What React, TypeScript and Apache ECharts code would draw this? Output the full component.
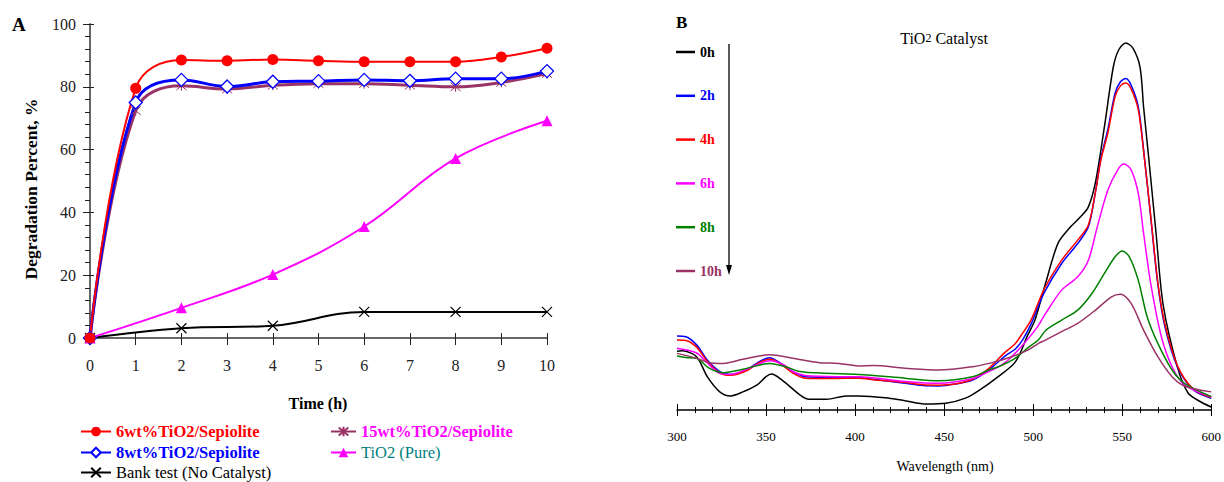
import React, { useEffect, useRef } from 'react';
import * as echarts from 'echarts';

const FONT = "'Liberation Serif', 'Times New Roman', Times, serif";

// ---------- Panel A data ----------
const hours = [0, 1, 2, 3, 4, 5, 6, 7, 8, 9, 10];
const evenHours = [0, 2, 4, 6, 8, 10];
const xTickLabelsA = ['0', '1', '2', '3', '4', '5', '6', '7', '8', '9', '10'];
const wt6Values = [0, 79.5, 88.5, 88.3, 88.7, 88.3, 88.0, 88.0, 88.0, 89.5, 92.3];
const wt8Values = [0, 75.0, 82.2, 80.1, 81.6, 81.8, 82.2, 81.9, 82.6, 82.6, 85.0];
const wt15Values = [0, 72.4, 80.3, 79.3, 80.5, 81.0, 81.0, 80.5, 80.0, 81.4, 84.2];
const tio2PureValues = [0, 9.6, 20.2, 35.5, 57.2, 69.2];
const blankValues = [0, 3.1, 3.9, 8.3, 8.3, 8.3];

const seriesNamesA = [
  '6wt%TiO2/Sepiolite',
  '8wt%TiO2/Sepiolite',
  'Bank test (No Catalyst)',
  '15wt%TiO2/Sepiolite',
  'TiO2 (Pure)',
];

// ---------- Panel B data (wavelength nm, absorbance a.u.) ----------
const spectrum0h = [
  [300, 0.159], [303, 0.160], [311, 0.144], [317, 0.090], [324, 0.049], [330, 0.038], [337, 0.049],
  [345, 0.068], [350, 0.090], [353, 0.097], [359, 0.081], [369, 0.041], [374, 0.029], [384, 0.029],
  [395, 0.038], [402, 0.038], [419, 0.032], [428, 0.025], [440, 0.016], [451, 0.018], [462, 0.032],
  [469, 0.051], [480, 0.089], [490, 0.130], [497, 0.203], [501, 0.243], [507, 0.343], [514, 0.451],
  [521, 0.495], [527, 0.524], [531, 0.549], [535, 0.616], [540, 0.765], [545, 0.927], [548, 0.973],
  [552, 0.992], [556, 0.978], [560, 0.927], [562, 0.819], [565, 0.676], [569, 0.478], [573, 0.284],
  [581, 0.116], [587, 0.046], [593, 0.025], [600, 0.008],
];
const spectrum2h = [
  [300, 0.200], [305, 0.198], [311, 0.176], [317, 0.135], [324, 0.104], [330, 0.096], [339, 0.108],
  [346, 0.130], [352, 0.141], [357, 0.130], [365, 0.104], [372, 0.090], [387, 0.088], [402, 0.088],
  [410, 0.083], [428, 0.072], [438, 0.066], [447, 0.065], [456, 0.070], [466, 0.081], [475, 0.108],
  [484, 0.145], [490, 0.165], [494, 0.189], [499, 0.234], [506, 0.315], [516, 0.396], [525, 0.450],
  [531, 0.495], [535, 0.590], [538, 0.680], [542, 0.760], [546, 0.856], [549, 0.887], [552, 0.896],
  [555, 0.878], [559, 0.820], [562, 0.703], [566, 0.522], [570, 0.340], [574, 0.225], [581, 0.117],
  [590, 0.054], [600, 0.032],
];
const spectrum4h = [
  [300, 0.189], [305, 0.188], [311, 0.170], [317, 0.132], [324, 0.100], [330, 0.094], [339, 0.106],
  [346, 0.128], [352, 0.137], [357, 0.128], [365, 0.100], [372, 0.086], [387, 0.085], [402, 0.086],
  [410, 0.082], [428, 0.074], [438, 0.068], [447, 0.067], [456, 0.070], [466, 0.083], [475, 0.112],
  [484, 0.155], [490, 0.180], [494, 0.207], [499, 0.245], [506, 0.325], [516, 0.405], [525, 0.459],
  [531, 0.500], [535, 0.590], [538, 0.675], [542, 0.750], [546, 0.847], [549, 0.876], [552, 0.884],
  [555, 0.868], [559, 0.812], [562, 0.700], [566, 0.525], [570, 0.345], [574, 0.232], [581, 0.120],
  [590, 0.056], [600, 0.034],
];
const spectrum6h = [
  [300, 0.167], [311, 0.154], [317, 0.127], [324, 0.099], [330, 0.096], [340, 0.112], [352, 0.133],
  [360, 0.122], [365, 0.104], [372, 0.093], [390, 0.090], [402, 0.090], [428, 0.077], [447, 0.072],
  [466, 0.085], [475, 0.104], [480, 0.115], [486, 0.135], [494, 0.175], [502, 0.222], [507, 0.261],
  [516, 0.324], [525, 0.360], [531, 0.405], [536, 0.495], [542, 0.595], [548, 0.653], [551, 0.665],
  [555, 0.649], [559, 0.586], [562, 0.478], [566, 0.342], [572, 0.198], [578, 0.117], [585, 0.068],
  [600, 0.036],
];
const spectrum8h = [
  [300, 0.146], [305, 0.142], [311, 0.140], [318, 0.113], [326, 0.101], [337, 0.110], [352, 0.126],
  [361, 0.117], [369, 0.104], [384, 0.099], [402, 0.096], [428, 0.086], [447, 0.079], [466, 0.090],
  [475, 0.108], [482, 0.120], [490, 0.140], [497, 0.168], [503, 0.190], [507, 0.215], [516, 0.243],
  [525, 0.270], [533, 0.315], [540, 0.369], [546, 0.414], [550, 0.430], [554, 0.414], [559, 0.351],
  [564, 0.252], [570, 0.180], [578, 0.108], [585, 0.072], [600, 0.036],
];
const spectrum10h = [
  [300, 0.153], [311, 0.140], [318, 0.128], [326, 0.126], [337, 0.137], [352, 0.149], [365, 0.140],
  [380, 0.128], [391, 0.126], [402, 0.119], [410, 0.120], [428, 0.113], [447, 0.108], [466, 0.117],
  [477, 0.128], [488, 0.144], [497, 0.162], [503, 0.180], [507, 0.189], [516, 0.212], [525, 0.234],
  [535, 0.270], [544, 0.306], [549, 0.313], [555, 0.288], [562, 0.216], [570, 0.144], [578, 0.090],
  [585, 0.065], [600, 0.049],
];
const spectraNames = ['0h', '2h', '4h', '6h', '8h', '10h'];
const spectraColors = ['#000000', '#0000ff', '#ff0000', '#ff00ff', '#008000', '#993366'];
const spectra = [spectrum0h, spectrum2h, spectrum4h, spectrum6h, spectrum8h, spectrum10h];

const pair = (xs: number[], ys: number[]) => xs.map((x, i) => [x, ys[i]]);

const CROSS = 'path://M0,0L10,10M10,0L0,10';
const ASTER = 'path://M0,0L10,10M10,0L0,10M5,-1L5,11';

function buildOption() {
  const seriesA: any[] = [
    {
      name: 'Bank test (No Catalyst)', type: 'line', data: pair(evenHours, blankValues),
      smooth: 0.4, symbol: CROSS, symbolSize: 10,
      lineStyle: { color: '#000', width: 2 },
      itemStyle: { color: '#000', borderColor: '#000', borderWidth: 1.2 },
    },
    {
      name: 'TiO2 (Pure)', type: 'line', data: pair(evenHours, tio2PureValues),
      smooth: 0.4, symbol: 'triangle', symbolSize: 11,
      lineStyle: { color: '#ff00ff', width: 2 },
      itemStyle: { color: '#ff00ff' },
    },
    {
      name: '15wt%TiO2/Sepiolite', type: 'line', data: pair(hours, wt15Values),
      smooth: 0.4, symbol: ASTER, symbolSize: 10,
      lineStyle: { color: '#993366', width: 3 },
      itemStyle: { color: '#993366', borderColor: '#993366', borderWidth: 1 },
    },
    {
      name: '8wt%TiO2/Sepiolite', type: 'line', data: pair(hours, wt8Values),
      smooth: 0.4, symbol: 'diamond', symbolSize: 13,
      lineStyle: { color: '#0000ff', width: 3 },
      itemStyle: { color: '#fff', borderColor: '#0000ff', borderWidth: 1.3 },
    },
    {
      name: '6wt%TiO2/Sepiolite', type: 'line', data: pair(hours, wt6Values),
      smooth: 0.4, symbol: 'circle', symbolSize: 11,
      lineStyle: { color: '#ff0000', width: 2 },
      itemStyle: { color: '#ff0000' },
    },
  ].map((s) => ({ ...s, xAxisIndex: 0, yAxisIndex: 0, z: 3 }));

  const seriesB = spectra.map((d, i) => ({
    name: spectraNames[i], type: 'line', data: d, xAxisIndex: 2, yAxisIndex: 2,
    smooth: 0.3, symbol: 'none', lineStyle: { color: spectraColors[i], width: 1.5 },
    itemStyle: { color: spectraColors[i] },
  }));

  // one single-item legend per row of panel A's key
  const legendRowsA = [
    { name: seriesNamesA[0], left: 80, cy: 430, w: 30, color: '#ff0000', bold: true },
    { name: seriesNamesA[1], left: 80, cy: 451, w: 30, color: '#0000ff', bold: true },
    { name: seriesNamesA[2], left: 80, cy: 471, w: 30, color: '#000000', bold: false },
    { name: seriesNamesA[3], left: 330, cy: 430, w: 25, color: '#ff00ff', bold: true },
    { name: seriesNamesA[4], left: 330, cy: 451, w: 25, color: '#008080', bold: false },
  ];
  const legendsA = legendRowsA.map((r) => ({
    left: r.left, top: r.cy - 7, orient: 'horizontal', selectedMode: false, padding: 0,
    itemWidth: r.w, itemHeight: 12,
    textStyle: { fontFamily: FONT, fontSize: 16.5, lineHeight: 14 },
    data: [{ name: r.name, textStyle: { color: r.color, fontWeight: r.bold ? 'bold' : 'normal' } }],
  }));

  const axisGray = '#666';

  return {
    animation: false,
    backgroundColor: '#fff',
    textStyle: { fontFamily: FONT },
    grid: [
      { left: 90, top: 24, width: 457, height: 314 },
      { left: 677, top: 40, width: 536, height: 370 },
    ],
    xAxis: [
      {
        gridIndex: 0, type: 'value', min: 0, max: 10, interval: 1, position: 'bottom',
        axisLine: { show: true, onZero: false, lineStyle: { color: axisGray, width: 2 } },
        axisTick: { show: true, length: 7, lineStyle: { color: '#222' } },
        axisLabel: { fontFamily: FONT, fontSize: 16, color: '#222', margin: 19,
          formatter: (v: number) => xTickLabelsA[v] ?? String(v) },
        splitLine: { show: false },
      },
      {
        gridIndex: 0, type: 'value', min: 0, max: 10, interval: 1, position: 'bottom',
        axisLine: { show: false, onZero: false },
        axisTick: { show: true, inside: true, length: 5, lineStyle: { color: '#222' } },
        axisLabel: { show: false }, splitLine: { show: false },
      },
      {
        gridIndex: 1, type: 'value', min: 300, max: 600, interval: 50, position: 'bottom',
        axisLine: { show: true, onZero: false, lineStyle: { color: '#000', width: 1.5 } },
        axisTick: { show: true, length: 6, lineStyle: { color: '#000' } },
        minorTick: { show: true, splitNumber: 5, length: 3, lineStyle: { color: '#000' } },
        axisLabel: { fontFamily: FONT, fontSize: 13, color: '#000', margin: 20 },
        splitLine: { show: false }, minorSplitLine: { show: false },
      },
      {
        gridIndex: 1, type: 'value', min: 300, max: 600, interval: 50, position: 'bottom',
        axisLine: { show: false, onZero: false },
        axisTick: { show: true, inside: true, length: 6, lineStyle: { color: '#000' } },
        minorTick: { show: true, splitNumber: 5, length: 3, lineStyle: { color: '#000' } },
        axisLabel: { show: false }, splitLine: { show: false }, minorSplitLine: { show: false },
      },
    ],
    yAxis: [
      {
        gridIndex: 0, type: 'value', min: 0, max: 100, interval: 20, position: 'left',
        axisLine: { show: true, onZero: false, lineStyle: { color: axisGray, width: 2 } },
        axisTick: { show: true, length: 7, lineStyle: { color: '#222' } },
        minorTick: { show: true, splitNumber: 5, length: 5, lineStyle: { color: '#222' } },
        axisLabel: { fontFamily: FONT, fontSize: 16, color: '#222', margin: 14 },
        splitLine: { show: false }, minorSplitLine: { show: false },
      },
      {
        gridIndex: 0, type: 'value', min: 0, max: 100, interval: 20, position: 'left',
        axisLine: { show: false, onZero: false },
        axisTick: { show: true, inside: true, length: 4, lineStyle: { color: '#222' } },
        axisLabel: { show: false }, splitLine: { show: false },
      },
      {
        gridIndex: 1, type: 'value', min: 0, max: 1, show: false,
        splitLine: { show: false },
      },
    ],
    legend: [
      ...legendsA,
      {
        left: 676, top: 45, orient: 'vertical', selectedMode: false, padding: 0,
        icon: 'rect', itemWidth: 19, itemHeight: 2.5, itemGap: 29.8,
        textStyle: { fontFamily: FONT, fontSize: 14, fontWeight: 'bold', lineHeight: 14 },
        data: spectraNames.map((n, i) => ({ name: n, textStyle: { color: spectraColors[i] } })),
      },
    ],
    graphic: [
      { type: 'text', x: 12, y: 24, style: { text: 'A', fontFamily: FONT, fontSize: 19, fontWeight: 'bold', fill: '#000', verticalAlign: 'middle' } },
      { type: 'text', x: 676, y: 22, style: { text: 'B', fontFamily: FONT, fontSize: 17, fontWeight: 'bold', fill: '#000', verticalAlign: 'middle' } },
      {
        type: 'text', x: 31, y: 189, rotation: Math.PI / 2,
        style: { text: 'Degradation Percent, %', fontFamily: FONT, fontSize: 17.5, fontWeight: 'bold', fill: '#000', align: 'center', verticalAlign: 'middle' },
      },
      { type: 'text', x: 318, y: 403, style: { text: 'Time (h)', fontFamily: FONT, fontSize: 16, fontWeight: 'bold', fill: '#000', align: 'center', verticalAlign: 'middle' } },
      { type: 'text', x: 945, y: 466, style: { text: 'Wavelength (nm)', fontFamily: FONT, fontSize: 14, fill: '#000', align: 'center', verticalAlign: 'middle' } },
      {
        type: 'text', x: 944, y: 38,
        style: {
          text: '{a|TiO}{b|2}{a| Catalyst}', align: 'center', verticalAlign: 'middle', fill: '#000',
          rich: { a: { fontFamily: FONT, fontSize: 16, fill: '#000' }, b: { fontFamily: FONT, fontSize: 12, fill: '#000' } },
        },
      },
      { type: 'line', shape: { x1: 729, y1: 44, x2: 729, y2: 268 }, style: { stroke: '#000', lineWidth: 1.3 } },
      { type: 'polygon', shape: { points: [[726, 265], [732, 265], [729, 275]] }, style: { fill: '#000' } },
    ],
    series: [...seriesA, ...seriesB],
  };
}

export default function App() {
  const ref = useRef<HTMLDivElement>(null);
  useEffect(() => {
    if (!ref.current) return;
    const chart = echarts.init(ref.current, null, { renderer: 'svg' });
    chart.setOption(buildOption() as any);
    return () => chart.dispose();
  }, []);
  return (
    <div
      ref={ref}
      style={{ position: 'fixed', left: 0, top: 0, width: 1224, height: 482, background: '#fff' }}
    />
  );
}
